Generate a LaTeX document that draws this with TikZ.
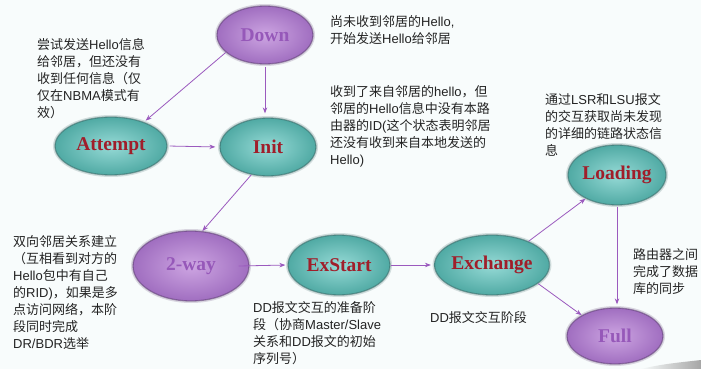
\documentclass[tikz,border=0pt]{standalone}
\usepackage{fontspec}
\setmainfont{Liberation Sans}
\newfontfamily\cjkfont{Noto Sans CJK SC}
\newfontfamily\latinfont{Liberation Sans}
\newfontfamily\labfont{Liberation Serif}
\newXeTeXintercharclass\mycjkclass
\newcount\mycjkcnt
\mycjkcnt="4E00
\loop
  \XeTeXcharclass\mycjkcnt=\mycjkclass
  \advance\mycjkcnt by 1
\ifnum\mycjkcnt<"9FFF \repeat
\XeTeXcharclass"FF0C=\mycjkclass
\XeTeXcharclass"FF08=\mycjkclass
\XeTeXcharclass"FF09=\mycjkclass
\XeTeXinterchartoks 0 \mycjkclass = {\cjkfont}
\XeTeXinterchartoks 4095 \mycjkclass = {\cjkfont}
\XeTeXinterchartoks \mycjkclass 0 = {\latinfont}
\XeTeXinterchartoks \mycjkclass 4095 = {\latinfont}
\usetikzlibrary{shapes.geometric,arrows.meta}
\definecolor{bg}{RGB}{248,252,252}
\definecolor{tealin}{RGB}{150,218,214}
\definecolor{tealout}{RGB}{80,170,164}
\definecolor{tealrim}{RGB}{60,105,103}
\definecolor{purin}{RGB}{205,165,226}
\definecolor{purout}{RGB}{160,110,192}
\definecolor{purrim}{RGB}{95,65,115}
\definecolor{redlab}{RGB}{160,30,42}
\definecolor{purlab}{RGB}{150,88,185}
\definecolor{arrowc}{RGB}{155,90,190}
\definecolor{txt}{RGB}{35,35,35}
\begin{document}
\XeTeXinterchartokenstate=1
\begin{tikzpicture}[x=1pt,y=-1pt,
  state/.style={ellipse, inner sep=0pt, shade, font=\labfont\bfseries\fontsize{19.5}{20}\selectfont},
  tstate/.style={state, inner color=tealin, outer color=tealout, draw=tealrim, draw opacity=0.55, line width=1.3pt,
    preaction={draw=tealrim, draw opacity=0.2, line width=4pt}, text=redlab},
  pstate/.style={state, inner color=purin, outer color=purout, draw=purrim, draw opacity=0.55, line width=1.3pt,
    preaction={draw=purrim, draw opacity=0.2, line width=4pt}, text=purlab},
  note/.style={anchor=north west, align=left, inner sep=0pt, text=txt, font=\fontsize{13}{17}\selectfont},
  arr/.style={draw=arrowc, line width=0.8pt, -{Stealth[length=6pt,width=4.5pt]}}
]
\useasboundingbox (0,0) rectangle (701,369);
\fill[bg] (0,0) rectangle (701,369);
\shade[left color=bg, right color=gray!70] (640,369) .. controls (665,364) .. (701,360) -- (701,369) -- cycle;

\node[pstate, minimum width=96pt, minimum height=58pt] (down) at (265,35) {Down};
\node[tstate, minimum width=112pt, minimum height=58pt] (att) at (111,146) {Attempt};
\node[tstate, minimum width=96pt, minimum height=58pt] (init) at (268,147) {Init};
\node[pstate, minimum width=116pt, minimum height=70pt] (tw) at (191,266) {2-way};
\node[tstate, minimum width=102pt, minimum height=60pt] (exs) at (339,265) {ExStart};
\node[tstate, minimum width=104pt, minimum height=60pt] (exc) at (492,265) {Exchange};
\node[tstate, minimum width=96pt, minimum height=60pt] (load) at (617,175) {Loading};
\node[pstate, minimum width=96pt, minimum height=56pt] (full) at (615,336) {Full};

\draw[arr, shorten >=2pt] (down.204) -- (att.36);
\draw[arr, shorten <=2pt, shorten >=4pt] (down.south) -- (down.south |- init.north);
\draw[arr, shorten <=2pt, shorten >=4pt] (att.east) -- (init.west);
\draw[arr] (init.239) -- (tw.72);
\draw[arr, shorten >=2pt] ([xshift=-11pt]tw.east) -- (exs.west);
\draw[arr, shorten >=3pt] (exs.east) -- (exc.west);
\draw[arr] (exc.33) -- (load.217);
\draw[arr] (exc.338) -- (full.148);
\draw[arr, shorten <=1pt, shorten >=3pt] (load.south) -- (load.south |- full.north);

\node[note] (n1) at (330,15) {尚未收到邻居的Hello,\\开始发送Hello给邻居};
\node[note] (n2) at (37,38) {尝试发送Hello信息\\给邻居，但还没有\\收到任何信息（仅\\仅在NBMA模式有\\效）};
\node[note] (n3) at (330,85) {收到了来自邻居的hello，但\\邻居的Hello信息中没有本路\\由器的ID(这个状态表明邻居\\还没有收到来自本地发送的\\Hello)};
\node[note] (n4) at (545,93) {通过LSR和LSU报文\\的交互获取尚未发现\\的详细的链路状态信\\息};
\node[note] (n5) at (13,235) {双向邻居关系建立\\（互相看到对方的\\Hello包中有自己\\的RID)，如果是多\\点访问网络，本阶\\段同时完成\\DR/BDR选举};
\node[note] (n6) at (253,301) {DD报文交互的准备阶\\段（协商Master/Slave\\关系和DD报文的初始\\序列号）};
\node[note] (n7) at (430,311) {DD报文交互阶段};
\node[note] (n8) at (633,248) {路由器之间\\完成了数据\\库的同步};
\end{tikzpicture}
\end{document}
